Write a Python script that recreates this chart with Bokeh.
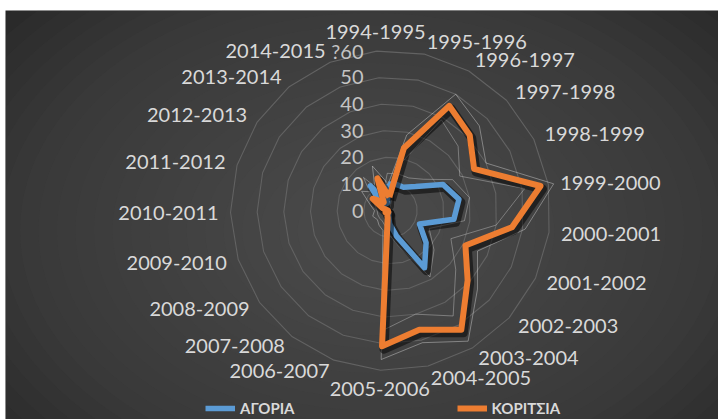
import numpy as np
from bokeh.plotting import figure
from bokeh.models import Range1d, Legend, LegendItem
from bokeh.core.properties import value
from bokeh.embed import file_html
from bokeh.resources import INLINE

seasons = ["1994-1995", "1995-1996", "1996-1997", "1997-1998", "1998-1999",
           "1999-2000", "2000-2001", "2001-2002", "2002-2003", "2003-2004",
           "2004-2005", "2005-2006", "2006-2007", "2007-2008", "2008-2009",
           "2009-2010", "2010-2011", "2011-2012", "2012-2013", "2013-2014",
           "2014-2015"]
boys = [10, 10, 10, 13, 22, 26, 24, 12, 18, 25, 10, 5, 2, 1, 1, 1, 1, 2, 4, 12, 3]
girls = [5, 24, 45, 41, 35, 57, 46, 31, 39, 52, 46, 51, 3, 2, 1, 2, 1, 3, 8, 4, 13]
tick_values = [0, 10, 20, 30, 40, 50, 60]
tick_labels = ["0", "10", "20", "30", "40", "50", "?60"]
series_names = ["ΑΓΟΡΙΑ", "ΚΟΡΙΤΣΙΑ"]

W, H = 718, 419
TOP, LEFT = 10, 5
FW, FH = W - LEFT, H - TOP      # frame size
PX = 160 / 60.0                 # pixels per unit
CX, CY = 385, 200               # radar centre in frame pixels
ROT = -5.0
n = len(seasons)
ang = np.deg2rad(np.arange(n) * 360.0 / n + ROT)

def pts(vals):
    v = np.asarray(vals, dtype=float)
    x = v * np.sin(ang)
    y = v * np.cos(ang)
    return list(np.append(x, x[0])), list(np.append(y, y[0]))

p = figure(width=W, height=H,
           x_range=Range1d(-CX / PX, (FW - CX) / PX),
           y_range=Range1d(-(FH - CY) / PX, CY / PX),
           output_backend="svg", toolbar_location=None,
           min_border=0, min_border_top=TOP, min_border_left=LEFT,
           x_axis_type=None, y_axis_type=None,
           background_fill_color="#272727", border_fill_color="white",
           outline_line_color=None)
p.grid.visible = False

# soft radial background
gx, gy = -20 / PX, -20 / PX
nb = 24
ws = [(960 - 37 * k) / PX for k in range(nb)]
hs = [(660 - 25 * k) / PX for k in range(nb)]
p.ellipse(x=[gx] * nb, y=[gy] * nb, width=ws, height=hs,
          fill_color="#565656", fill_alpha=0.07, line_color=None)

# grid rings
for v in tick_values[1:]:
    rx, ry = pts([v] * n)
    p.line(rx, ry, line_color="#626262", line_width=1.1)

# decorative glow outlines
gox, goy = pts([g + 5 for g in girls])
p.line(gox, goy, line_color="white", line_alpha=0.35, line_width=1)
gix, giy = pts([max(g - 6, 1.5) for g in girls])
p.line(gix, giy, line_color="white", line_alpha=0.3, line_width=1)
box, boy = pts([b + 4 for b in boys])
p.line(box, boy, line_color="white", line_alpha=0.3, line_width=1)

sdx, sdy = 2 / PX, -3 / PX
bx, by = pts(boys)
gxs, gys = pts(girls)
p.line([x + sdx for x in bx], [y + sdy for y in by], line_color="black",
       line_alpha=0.5, line_width=9, line_join="round")
r_boys = p.line(bx, by, line_color="#5B9BD5", line_width=5.5, line_join="round")
p.line([x + sdx for x in gxs], [y + sdy for y in gys], line_color="black",
       line_alpha=0.5, line_width=9, line_join="round")
r_girls = p.line(gxs, gys, line_color="#ED7D31", line_width=6, line_join="round")

# value axis labels
p.text(x=[-27 / PX] * len(tick_values), y=tick_values, text=tick_labels,
       text_align="right", text_baseline="middle", text_color="#c4c4c4",
       text_font=value("Lato"), text_font_size="20px")

# category labels
RL = 172 / PX
for i, s in enumerate(seasons):
    sn, cs = np.sin(ang[i]), np.cos(ang[i])
    if sn > 0.12:
        al = "left"
    elif sn < -0.12:
        al = "right"
    else:
        al = "center"
    bl = "middle"
    if abs(sn) <= 0.12:
        bl = "bottom" if cs > 0 else "top"
    p.text(x=[RL * sn], y=[RL * cs], text=[s], text_align=al, text_baseline=bl,
           text_color="#d9d9d9", text_font=value("Lato"), text_font_size="20px")

legend = Legend(items=[LegendItem(label=series_names[0], renderers=[r_boys]),
                       LegendItem(label=series_names[1], renderers=[r_girls])],
                orientation="horizontal", location=(200, 2), spacing=162,
                padding=0, margin=0, glyph_width=30, glyph_height=16,
                label_text_color="#d9d9d9", label_text_font="Lato",
                label_text_font_style="bold", label_text_font_size="15px",
                background_fill_alpha=0, border_line_alpha=0)
p.add_layout(legend, "center")

open("out.html", "w").write(file_html(p, INLINE))
